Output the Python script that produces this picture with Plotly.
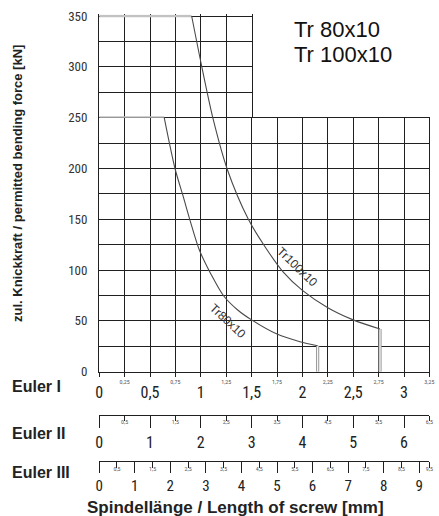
import plotly.graph_objects as go

# ---------------- data ----------------
TR80_L = [0, 0.64, 0.746, 0.828, 0.894, 0.985, 1.1, 1.222, 1.36, 1.5, 1.75, 1.976, 2.15, 2.15]
TR80_F = [250, 250, 200, 172, 149, 120, 96, 75, 61, 51, 37, 29.5, 25.5, 0]

TR100_L = [0, 0.91, 1.01, 1.123, 1.261, 1.468, 1.632, 1.812, 2.0, 2.25, 2.5, 2.764, 2.764]
TR100_F = [350, 350, 300, 248, 199, 150, 123, 98, 80, 63, 51, 42, 0]

EULER1_MAJOR = [0, 0.5, 1, 1.5, 2, 2.5, 3]
EULER1_MAJOR_TXT = ["0", "0,5", "1", "1,5", "2", "2,5", "3"]
EULER1_MINOR = [0.25, 0.75, 1.25, 1.75, 2.25, 2.75, 3.25]
EULER1_MINOR_TXT = ["0,25", "0,75", "1,25", "1,75", "2,25", "2,75", "3,25"]

EULER2_MAJOR = [0, 1, 2, 3, 4, 5, 6]
EULER2_MAJOR_TXT = ["0", "1", "2", "3", "4", "5", "6"]
EULER2_MINOR = [0.5, 1.5, 2.5, 3.5, 4.5, 5.5, 6.5]
EULER2_MINOR_TXT = ["0,5", "1,5", "2,5", "3,5", "4,5", "5,5", "6,5"]

EULER3_MAJOR = [0, 1, 2, 3, 4, 5, 6, 7, 8, 9]
EULER3_MAJOR_TXT = ["0", "1", "2", "3", "4", "5", "6", "7", "8", "9"]
EULER3_MINOR = [0.5, 1.5, 2.5, 3.5, 4.5, 5.5, 6.5, 7.5, 8.5, 9.2857]
EULER3_MINOR_TXT = ["0,5", "1,5", "2,5", "3,5", "4,5", "5,5", "6,5", "7,5", "8,5", "9,5"]

Y_TICKS = [0, 50, 100, 150, 200, 250, 300, 350]

L_MAX = 3.25          # Euler I range
F_SPLIT = 250         # upper block of the grid ends at L = 1.5
L_SPLIT = 1.5
F_MAX = 350
F_PAD = 1.5           # small headroom so the 350 line is a grid line

# ---------------- geometry ----------------
W, H = 439, 516
def px(x): return x / W
def py(y): return 1 - y / H

PX_PER_KN = (371.7 - 117.7) / F_SPLIT
X0, X1, XM = px(99.2), px(429.4), px(251.6)
YB0, YB1, YT1 = py(371.7), py(117.7), py(16 - F_PAD * PX_PER_KN)

NARROW = "Liberation Sans Narrow, Arial Narrow, Roboto Condensed, DejaVu Sans Condensed, sans-serif"
ARIAL = "Liberation Sans, Arial, sans-serif"
GRID = "#202020"
CURVE = "#4a4a4a"
LIGHT = "#c2c2c2"

fig = go.Figure()

def add_series(L, F):
    # flat part (lies on the upper grid block border)
    fig.add_trace(go.Scatter(x=L[0:2], y=F[0:2], mode="lines", xaxis="x2", yaxis="y2",
                             line=dict(color=LIGHT, width=2.7), hoverinfo="skip", showlegend=False))
    for xa, ya in [("x", "y"), ("x2", "y2")]:
        fig.add_trace(go.Scatter(x=L[-2:], y=F[-2:], mode="lines", xaxis=xa, yaxis=ya,
                                 line=dict(color="#9a9a9a", width=3.2), hoverinfo="skip", showlegend=False))
        fig.add_trace(go.Scatter(x=L[-2:], y=F[-2:], mode="lines", xaxis=xa, yaxis=ya,
                                 line=dict(color="white", width=1.1), hoverinfo="skip", showlegend=False))
        fig.add_trace(go.Scatter(x=L[1:-1], y=F[1:-1], mode="lines", xaxis=xa, yaxis=ya,
                                 line=dict(color=CURVE, width=1.1, shape="spline", smoothing=0.8),
                                 hoverinfo="skip", showlegend=False))

add_series(TR80_L, TR80_F)
add_series(TR100_L, TR100_F)

# empty traces so the extra Euler scales get drawn
for xa in ["x3", "x4", "x5", "x6", "x7"]:
    fig.add_trace(go.Scatter(x=[], y=[], xaxis=xa, yaxis="y", mode="lines",
                             hoverinfo="skip", showlegend=False))

grid_common = dict(showgrid=True, gridcolor=GRID, gridwidth=1.3, showline=True, linecolor=GRID,
                   linewidth=1.3, mirror=True, zeroline=False, fixedrange=True, automargin=False)
free_common = dict(overlaying="x", anchor="free", showgrid=False, zeroline=False,
                   fixedrange=True, automargin=False, tickmode="array")

fig.update_layout(
    width=W, height=H, margin=dict(l=0, r=0, t=0, b=0, autoexpand=False),
    paper_bgcolor="white", plot_bgcolor="rgba(0,0,0,0)", showlegend=False,
    xaxis=dict(domain=[X0, X1], range=[0, L_MAX], anchor="y", **grid_common,
               tickmode="array", tickvals=sorted(EULER1_MAJOR + EULER1_MINOR),
               ticktext=[EULER1_MINOR_TXT[EULER1_MINOR.index(v)] if v in EULER1_MINOR else ""
                         for v in sorted(EULER1_MAJOR + EULER1_MINOR)],
               ticks="outside", ticklen=4, tickcolor=GRID, tickwidth=1.3,
               tickfont=dict(family=NARROW, size=6, color="#555"), ticklabelstandoff=0),
    yaxis=dict(domain=[YB0, YB1], range=[0, F_SPLIT], anchor="x", **grid_common,
               tickmode="array", tickvals=list(range(0, F_SPLIT + 1, 25)),
               ticktext=[str(v) if v in Y_TICKS else "" for v in range(0, F_SPLIT + 1, 25)],
               ticks="", tickfont=dict(family=NARROW, size=13, color="#333"), ticklabelstandoff=8),
    xaxis2=dict(domain=[X0, XM], range=[0, L_SPLIT], anchor="y2", showgrid=True, gridcolor=GRID,
                gridwidth=1.3, showline=False, zeroline=False, fixedrange=True, automargin=False,
                tickmode="linear", tick0=0, dtick=0.25, showticklabels=False, ticks=""),
    yaxis2=dict(domain=[YB1, YT1], range=[F_SPLIT, F_MAX + F_PAD], anchor="x2", **grid_common,
                tickmode="array", tickvals=list(range(F_SPLIT + 25, F_MAX + 1, 25)),
                ticktext=[str(v) if v in Y_TICKS else "" for v in range(F_SPLIT + 25, F_MAX + 1, 25)],
                ticks="", tickfont=dict(family=NARROW, size=13, color="#333"), ticklabelstandoff=8),
    xaxis3=dict(**free_common, position=YB0, range=[0, L_MAX], showline=False, ticks="",
                tickvals=EULER1_MAJOR, ticktext=EULER1_MAJOR_TXT,
                tickfont=dict(family=NARROW, size=16, color="#222"), ticklabelstandoff=9),
    xaxis4=dict(**free_common, position=py(415), range=[0, 2 * L_MAX],
                showline=True, linecolor=GRID, linewidth=1.3,
                ticks="outside", ticklen=12, tickcolor=GRID, tickwidth=1.3,
                tickvals=EULER2_MAJOR, ticktext=EULER2_MAJOR_TXT,
                minor=dict(tickvals=EULER2_MINOR, ticks="outside", ticklen=5, tickcolor=GRID, tickwidth=1.3),
                tickfont=dict(family=NARROW, size=16, color="#222"), ticklabelstandoff=1),
    xaxis5=dict(**free_common, position=py(415), range=[0, 2 * L_MAX], showline=False, ticks="",
                tickvals=EULER2_MINOR, ticktext=EULER2_MINOR_TXT,
                tickfont=dict(family=NARROW, size=6, color="#555"), ticklabelstandoff=2),
    xaxis6=dict(**free_common, position=py(461), range=[0, L_MAX * 2 / 0.7],
                showline=True, linecolor=GRID, linewidth=1.3,
                ticks="outside", ticklen=11, tickcolor=GRID, tickwidth=1.3,
                tickvals=EULER3_MAJOR, ticktext=EULER3_MAJOR_TXT,
                minor=dict(tickvals=EULER3_MINOR, ticks="outside", ticklen=6, tickcolor=GRID, tickwidth=1.3),
                tickfont=dict(family=NARROW, size=15, color="#222"), ticklabelstandoff=0),
    xaxis7=dict(**free_common, position=py(461), range=[0, L_MAX * 2 / 0.7], showline=False, ticks="",
                tickvals=EULER3_MINOR, ticktext=EULER3_MINOR_TXT,
                tickfont=dict(family=NARROW, size=6, color="#555"), ticklabelstandoff=3),
)

ann = []
for label, ycen in [("Euler I", 386.7), ("Euler II", 433), ("Euler III", 472)]:
    ann.append(dict(text=label, x=px(10), y=py(ycen), xref="paper", yref="paper",
                    xanchor="left", yanchor="middle", showarrow=False,
                    font=dict(family=ARIAL, size=16, color="#222", weight="bold")))
ann.append(dict(text="Spindellänge / Length of screw [mm]", x=px(235), y=py(507),
                xref="paper", yref="paper", xanchor="center", yanchor="middle", showarrow=False,
                font=dict(family=ARIAL, size=17, color="#222", weight="bold")))
ann.append(dict(text="zul. Knickkraft / permitted bending force [kN]", x=px(18), y=py(184),
                xref="paper", yref="paper", xanchor="center", yanchor="middle", showarrow=False,
                textangle=-90, font=dict(family=ARIAL, size=13, color="#222", weight="bold")))
ann.append(dict(text="Tr 80x10", x=px(292), y=py(29.5), xref="paper", yref="paper",
                xanchor="left", yanchor="middle", showarrow=False,
                font=dict(family=ARIAL, size=22, color="#111")))
ann.append(dict(text="Tr 100x10", x=px(292), y=py(54.5), xref="paper", yref="paper",
                xanchor="left", yanchor="middle", showarrow=False,
                font=dict(family=ARIAL, size=22, color="#111")))
ann.append(dict(text="Tr100x10", x=1.95, y=103, xref="x", yref="y", showarrow=False,
                textangle=44, font=dict(family=ARIAL, size=12, color="#333")))
ann.append(dict(text="Tr80x10", x=1.265, y=50, xref="x", yref="y", showarrow=False,
                textangle=43, font=dict(family=ARIAL, size=12, color="#333")))
fig.update_layout(annotations=ann)

fig.write_html("out.html")
